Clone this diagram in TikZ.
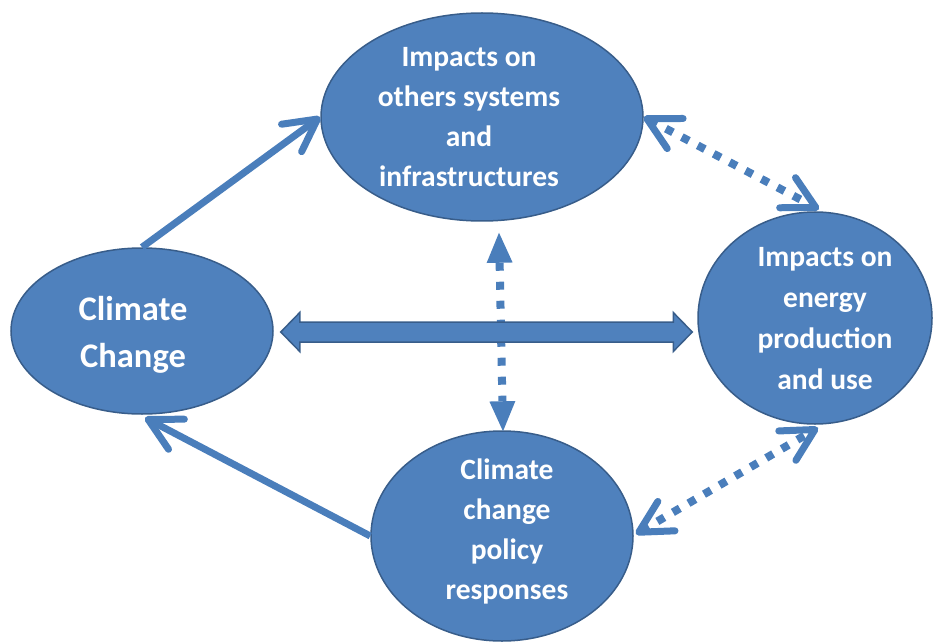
\documentclass[tikz,border=0pt]{standalone}
\usepackage{fontspec}
\setmainfont{Carlito}
\usetikzlibrary{arrows.meta,calc,shapes.geometric}
\definecolor{fillc}{HTML}{4F81BD}
\definecolor{edgec}{HTML}{385D8A}
\definecolor{arrc}{HTML}{4A7EBB}
\begin{document}
\begin{tikzpicture}[x=1pt,y=-1pt,
 bubble/.style={ellipse, draw=edgec, fill=fillc, line width=1.5pt, inner sep=0pt},
 lbl/.style={text=white, font=\bfseries\fontsize{29.5}{40}\selectfont, align=center, inner sep=0pt},
 solidarrow/.style={draw=arrc, line width=7pt, -{Straight Barb[length=32pt,width=34pt,round]}},
 dotdiag/.style={draw=arrc, line width=8pt, dash pattern=on 8pt off 10pt,
   {Straight Barb[length=32pt,width=34pt,round,line width=7pt]}-{Straight Barb[length=32pt,width=34pt,round,line width=7pt]}},
 dotvert/.style={draw=arrc, line width=8pt, dash pattern=on 8pt off 11pt,
   {Triangle[length=30pt,width=26pt,line width=0pt]}-{Triangle[length=30pt,width=26pt,line width=0pt]}},
 dblarrow/.style={fill=fillc, draw=edgec, line width=1.5pt, line join=miter}
]
\useasboundingbox (0,0) rectangle (933,644);
% ellipses
\node[bubble, minimum width=322pt, minimum height=208pt] (it) at (482,117) {};
\node[bubble, minimum width=262pt, minimum height=166pt] (cc) at (142,331) {};
\node[bubble, minimum width=234pt, minimum height=212pt] (en) at (815,318) {};
\node[bubble, minimum width=262pt, minimum height=210pt] (pol) at (502,536) {};
% labels
\node[lbl] (it-t) at ($(it.center)+(-13,0)$) {Impacts on\\others systems\\and\\infrastructures};
\node[lbl, font=\bfseries\fontsize{34.5}{47}\selectfont] (cc-t) at ($(cc.center)+(-9,4)$) {Climate\\Change};
\node[lbl, font=\bfseries\fontsize{29.5}{41}\selectfont] (en-t) at ($(en.center)+(10,1)$) {Impacts on\\energy\\production\\and use};
\node[lbl] (pol-t) at ($(pol.center)+(5,-5)$) {Climate\\change\\policy\\responses};
% solid arrows
\draw[solidarrow] (cc.north) -- (it.west);
\draw[solidarrow] (pol.west) -- ($(cc.south)+(3,3)$);
% dotted arrows
\draw[dotvert] ($(it.south)+(17,11)$) -- ($(pol.north)+(1,1)$);
\draw[dotdiag] (it.east) -- ($(en.north)+(4,-2)$);
\draw[dotdiag] ($(pol.east)+(2,-2)$) -- ($(en.south)+(3,3)$);
% double block arrow
\coordinate (bl) at ($(cc.east)+(7,1)$);
\coordinate (br) at ($(bl -| en.west)+(-5,0)$);
\draw[dblarrow] (bl) -- ($(bl)+(19,-19.5)$) -- ($(bl)+(19,-10)$) -- ($(br)+(-19,-10)$)
  -- ($(br)+(-19,-19.5)$) -- (br) -- ($(br)+(-19,19.5)$) -- ($(br)+(-19,10)$)
  -- ($(bl)+(19,10)$) -- ($(bl)+(19,19.5)$) -- cycle;
\end{tikzpicture}
\end{document}
